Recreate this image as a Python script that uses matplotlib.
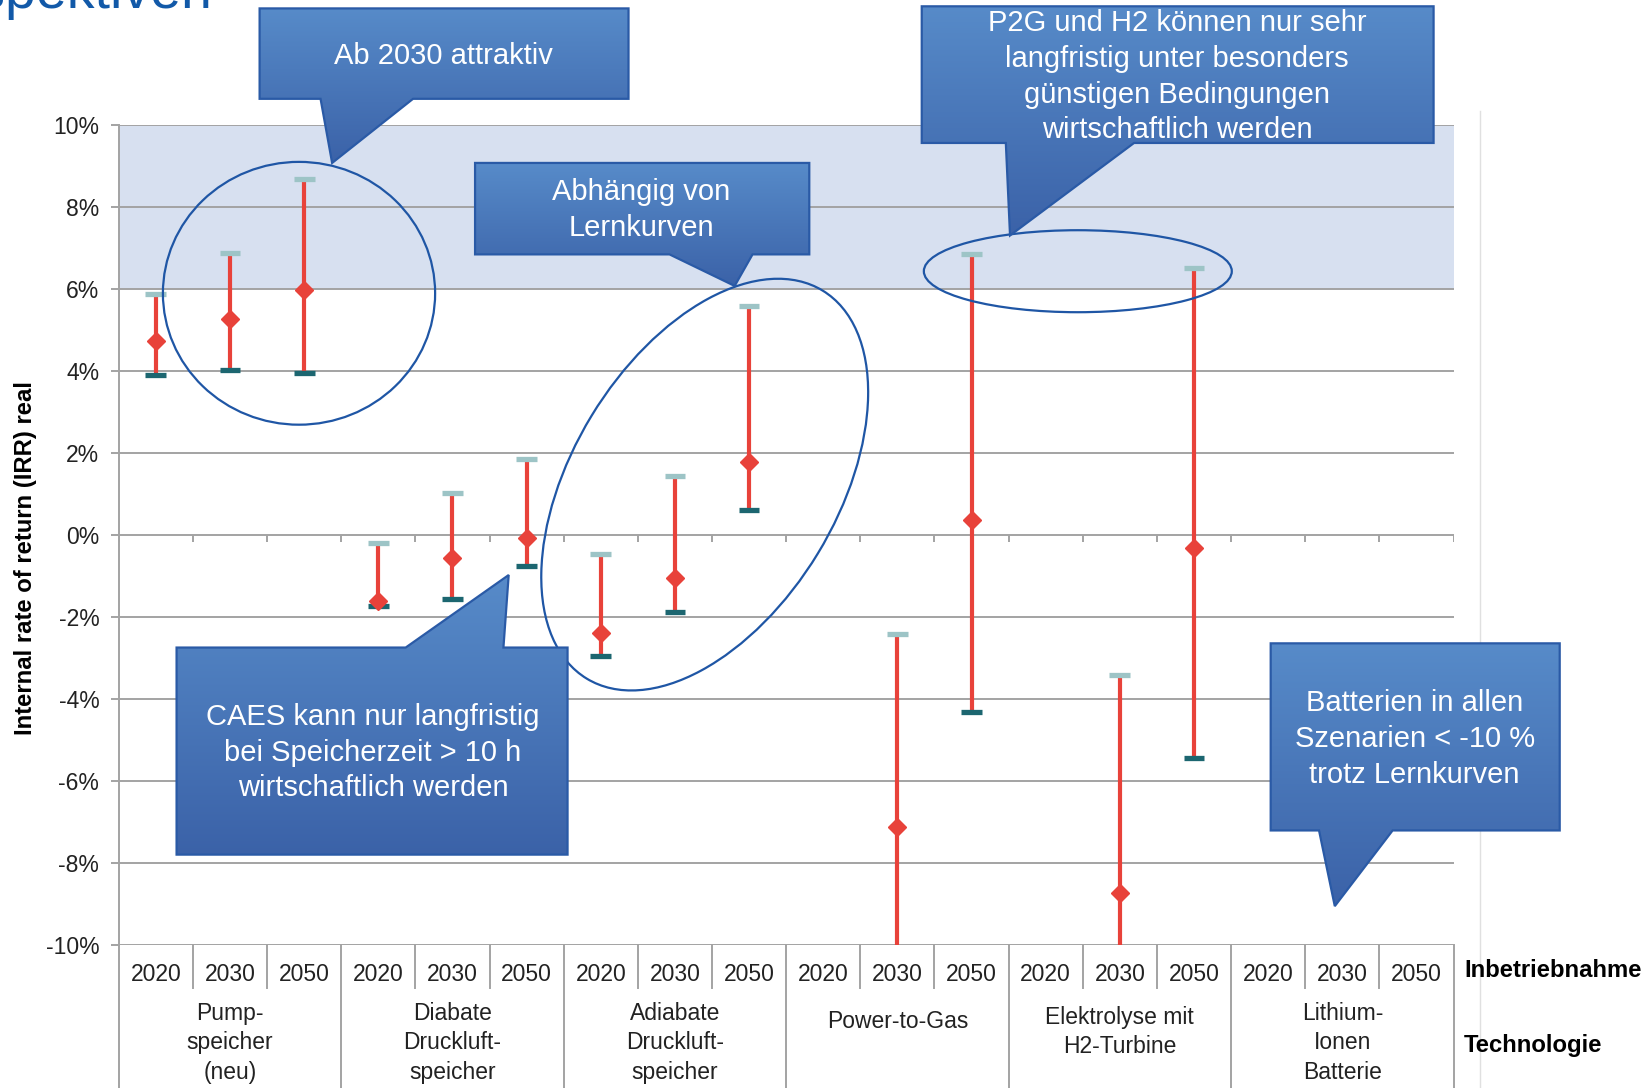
"""
IRR of storage technologies by commissioning year
"""
import matplotlib.pyplot as plt
import numpy as np
from matplotlib.colors import LinearSegmentedColormap
from matplotlib.patches import Ellipse, Polygon

plt.rcParams['font.family'] = ['Liberation Sans', 'DejaVu Sans']

nan = np.nan
technologies = ['Pump-\nspeicher\n(neu)', 'Diabate\nDruckluft-\nspeicher',
                'Adiabate\nDruckluft-\nspeicher', 'Power-to-Gas',
                'Elektrolyse mit\nH2-Turbine', 'Lithium-\nIonen\nBatterie']
years = ['2020', '2030', '2050']
# IRR in %, one value per technology/year slot (nan = below -10 %, not shown)
irr_high = [5.89, 6.88, 8.69, -0.2, 1.03, 1.85, -0.45, 1.44, 5.59,
            nan, -2.41, 6.85, nan, -3.41, 6.51, nan, nan, nan]
irr_mid = [4.73, 5.26, 5.97, -1.62, -0.55, -0.08, -2.38, -1.05, 1.77,
           nan, -7.13, 0.36, nan, -8.72, -0.31, nan, nan, nan]
irr_low = [3.91, 4.02, 3.95, -1.74, -1.56, -0.75, -2.95, -1.87, 0.62,
           nan, -10.5, -4.31, nan, -10.5, -5.44, nan, nan, nan]
y_ticks = [-10, -8, -6, -4, -2, 0, 2, 4, 6, 8, 10]

W, H = 1568, 1035  # layout grid of the slide
GRID = '#A3A3A3'
RED = '#E8423A'

fig = plt.figure(figsize=(16.48, 10.88), dpi=100)
ax = fig.add_axes([113 / W, 1 - 899 / H, 1270 / W, 780 / H])

n = len(irr_mid)
xs = np.arange(n) + 0.5
ax.set_xlim(0, n)
ax.set_ylim(y_ticks[0], y_ticks[-1])

# attractive band
ax.axhspan(6, 10, color='#D7E0F0', zorder=0, lw=0)
for t in y_ticks:
    ax.axhline(t, color=GRID, lw=1.4, zorder=0.5)
# small ticks on the zero line
ax.vlines(np.arange(n + 1), -0.17, 0, color=GRID, lw=1.4, zorder=0.5)

# ranges
ax.vlines(xs, irr_low, irr_high, color=RED, lw=3.0, zorder=2)
ax.hlines(irr_high, xs - 0.14, xs + 0.14, color='#9DC4C6', lw=3.8, zorder=3)
ax.hlines(irr_low, xs - 0.14, xs + 0.14, color='#1C6670', lw=3.8, zorder=3)
ax.plot(xs, irr_mid, 'D', color=RED, ms=9.5, mec=RED, zorder=4)

for s in ['top', 'right', 'bottom']:
    ax.spines[s].set_visible(False)
ax.spines['left'].set_color(GRID)
ax.spines['left'].set_linewidth(1.4)
ax.set_yticks(y_ticks)
ax.set_yticklabels([f'{t}%' for t in y_ticks])
ax.tick_params(axis='y', length=6, width=1.4, color=GRID, pad=8,
               labelsize=16.5, labelcolor='#222222')
ax.set_xticks([])


# category table below the plot
def yb(py):
    return (899 - py) / 780


tr = ax.get_xaxis_transform()
slot_years = [y for t in technologies for y in years]
for i, yr in enumerate(slot_years):
    ax.text(xs[i], yb(927), yr, transform=tr, ha='center', va='center',
            fontsize=16.5, color='#222222')
for b in range(n + 1):
    end = 1040 if b % 3 == 0 else 940
    ax.plot([b, b], [yb(899), yb(end)], transform=tr, color=GRID, lw=1.4,
            clip_on=False)
for g, tech in enumerate(technologies):
    nl = tech.count('\n') + 1
    ax.text(3 * g + 1.5, yb(962 + 10 * nl), tech, transform=tr, ha='center',
            va='center', fontsize=16.5, linespacing=1.35, color='#222222')

# overlay for annotations
ov = fig.add_axes([0, 0, 1, 1], zorder=10)
ov.set_xlim(0, W)
ov.set_ylim(H, 0)
ov.axis('off')

ov.text(24, 531, 'Internal rate of return (IRR) real', rotation=90,
        ha='center', va='center', fontsize=17.2, fontweight='bold')
ov.text(1393, 923, 'Inbetriebnahme', ha='left', va='center', fontsize=17.2,
        fontweight='bold')
ov.text(1393, 995, 'Technologie', ha='left', va='center', fontsize=17.2,
        fontweight='bold')
# slide title, cut off by the top edge as on the slide
ov.text(202, 7.5, 'Perspektiven', ha='right', va='baseline', fontsize=40,
        color='#1259A8')
ov.plot([1408, 1408], [106, H], color='#E0E0E0', lw=1)

ell_col = '#1F56A5'
ov.add_patch(Ellipse((284.5, 279), 259, 250, fill=False, ec=ell_col, lw=1.6))
ov.add_patch(Ellipse((670.5, 461), 432, 252, angle=-58.7, fill=False,
                     ec=ell_col, lw=1.6))
ov.add_patch(Ellipse((1025.5, 258), 293, 78, fill=False, ec=ell_col, lw=1.6))

cmap = LinearSegmentedColormap.from_list('callout', ['#578BC9', '#3B62A8'])
grad = np.linspace(0, 1, 256).reshape(-1, 1)

callouts = [
    ([(247, 8), (598, 8), (598, 94), (393, 94), (316, 155), (305, 94),
      (247, 94)], (422, 53), 'Ab 2030 attraktiv'),
    ([(452, 155), (770, 155), (770, 242), (716, 242), (699, 272), (637, 242),
      (452, 242)], (610, 200), 'Abhängig von\nLernkurven'),
    ([(877, 6), (1364, 6), (1364, 136), (1079, 136), (961, 224), (957, 136),
      (877, 136)], (1120, 73),
     'P2G und H2 können nur sehr\nlangfristig unter besonders\n'
     'günstigen Bedingungen\nwirtschaftlich werden'),
    ([(168, 616), (386, 616), (484, 547), (479, 616), (540, 616), (540, 813),
      (168, 813)], (355, 716),
     'CAES kann nur langfristig\nbei Speicherzeit > 10 h\nwirtschaftlich werden'),
    ([(1209, 612), (1484, 612), (1484, 790), (1325, 790), (1270, 862),
      (1255, 790), (1209, 790)], (1346, 703),
     'Batterien in allen\nSzenarien < -10 %\ntrotz Lernkurven'),
]
for k, (pts, pos, txt) in enumerate(callouts):
    z = 3 + k
    pts = np.array(pts, dtype=float)
    x0, x1 = pts[:, 0].min(), pts[:, 0].max()
    y0, y1 = pts[:, 1].min(), pts[:, 1].max()
    im = ov.imshow(grad, cmap=cmap, extent=(x0, x1, y1, y0), aspect='auto',
                   origin='upper', interpolation='bilinear', zorder=z)
    poly = Polygon(pts, closed=True, fc='none', ec='#2A5AA6', lw=1.6,
                   zorder=z + 0.1)
    ov.add_patch(poly)
    im.set_clip_path(poly)
    ov.text(pos[0], pos[1], txt, ha='center', va='center', color='white',
            fontsize=21, linespacing=1.35, zorder=z + 0.2)

ov.set_xlim(0, W)
ov.set_ylim(H, 0)

fig.savefig('out.png', dpi=100)
